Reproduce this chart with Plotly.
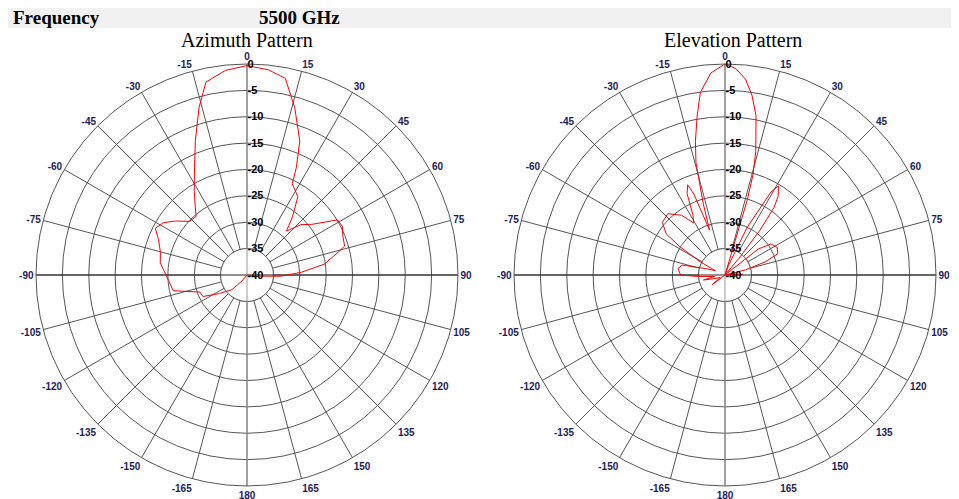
import plotly.graph_objects as go

# ---- data (dB vs angle, clockwise from top) ----
az_theta = [-180, -160, -145, -140, -134, -124, -116, -110, -102, -94, -82, -75, -68, -63, -58, -53, -47, -41,
            -37, -32, -26, -21, -16, -12, -6, 0, 6, 11, 16, 21.5, 24.6, 26.4, 33, 38, 42, 47, 52, 58.7, 63, 68,
            73.5, 76, 82, 87, 92, 96, 100, 120, 150, 180]
az_db = [-40, -40, -40, -38.5, -36, -33.7, -30.7, -30.5, -25.7, -25.1, -23.4, -23, -21.9, -20.5, -21.3, -23,
         -25.1, -25.3, -23.7, -21.1, -17.3, -12.7, -7, -2.6, -1, -0.3, -0.9, -2, -7.1, -12.7, -17.5, -20.7,
         -22.3, -26, -28.8, -26, -24.4, -19.9, -19.7, -20.4, -20.7, -22.2, -25.2, -29.6, -33.5, -38, -40, -40,
         -40, -40]

el_theta = [-180, -140, -127, -118, -110, -103, -98, -93, -90, -86, -82, -77, -72, -66, -62, -58, -55, -50,
            -43, -36, -31, -28, -25, -22.5, -21, -19, -17, -14.5, -12.5, -10, -7.7, -4, 0, 3, 6, 8.5, 11, 14,
            15.6, 16.5, 17.5, 20, 25, 29, 31, 34, 36, 38, 40, 43, 46, 52, 56, 62, 68, 72, 76, 80, 85, 88, 91,
            95, 120, 180]
el_db = [-40, -40, -37, -39, -38, -35.8, -38, -34.7, -31.6, -31.3, -31, -31.7, -36, -38, -34.7, -30, -26.4,
         -24.5, -24.1, -26, -28.5, -27, -23, -21.5, -23.6, -31, -26, -18, -14.1, -9.5, -5.1, -1.6, 0, -0.8,
         -2.7, -5.5, -9.2, -15.9, -20.3, -25, -40, -38, -30, -22, -20.3, -22, -24.2, -29.3, -36, -40, -40, -32,
         -29.5, -28.8, -29.2, -32, -36, -40, -38, -36.6, -38, -40, -40, -40]

ang_vals = list(range(0, 360, 15))
ang_labels = ["0", "15", "30", "45", "60", "75", "90", "105", "120", "135", "150", "165", "180",
              "-165", "-150", "-135", "-120", "-105", "-90", "-75", "-60", "-45", "-30", "-15"]
rad_vals = [-40, -35, -30, -25, -20, -15, -10, -5, 0]
rad_labels = ["-40", "-35", "-30", "-25", "-20", "-15", "-10", "-5", "0"]

titles = ["Azimuth Pattern", "Elevation Pattern"]
header_label = "Frequency"
header_value = "5500 GHz"

OFF = 8  # page body margin
W, H = 959 - OFF, 499 - OFF
GRID = "#555555"


def px(x):
    return (x - OFF) / W


def py(y):
    return 1 - (y - OFF) / H


fig = go.Figure()
circle_theta = list(range(0, 361, 2))
for sp in ["polar", "polar2"]:
    # inner blank disc (grid spokes stop at the -35 ring)
    fig.add_trace(go.Scatterpolar(r=[rad_vals[1]] * len(circle_theta), theta=circle_theta, mode="lines",
                                  fill="toself", fillcolor="white", line=dict(color=GRID, width=1),
                                  subplot=sp, showlegend=False, hoverinfo="skip"))
    # horizontal axis line through the centre
    fig.add_trace(go.Scatterpolar(r=[rad_vals[-1], rad_vals[0], rad_vals[-1]], theta=[-90, 0, 90],
                                  mode="lines", line=dict(color="#222222", width=1),
                                  subplot=sp, showlegend=False, hoverinfo="skip"))
    # vertical axis line through the centre
    fig.add_trace(go.Scatterpolar(r=[rad_vals[-1], rad_vals[0], rad_vals[-1]], theta=[0, 90, 180],
                                  mode="lines", line=dict(color="#999999", width=1),
                                  subplot=sp, showlegend=False, hoverinfo="skip"))

fig.add_trace(go.Scatterpolar(r=az_db, theta=az_theta, mode="lines",
                              line=dict(color="#ff0000", width=1), subplot="polar", showlegend=False))
fig.add_trace(go.Scatterpolar(r=el_db, theta=el_theta, mode="lines",
                              line=dict(color="#ff0000", width=1), subplot="polar2", showlegend=False))


def polar_cfg(x0, x1, y0, y1):
    return dict(
        domain=dict(x=[px(x0), px(x1)], y=[py(y1), py(y0)]),
        bgcolor="white",
        angularaxis=dict(rotation=90, direction="clockwise", tickmode="array",
                         tickvals=ang_vals, ticktext=ang_labels,
                         showline=True, linecolor=GRID, linewidth=1,
                         gridcolor=GRID, gridwidth=1, ticks="",
                         tickfont=dict(family="Liberation Sans", size=10, color="#1c1c5c", weight="bold")),
        radialaxis=dict(range=[-40, 0], tickmode="array", tickvals=rad_vals, ticktext=rad_labels,
                        angle=90, tickangle=90, showline=False,
                        gridcolor=GRID, gridwidth=1, ticks="",
                        tickfont=dict(family="Liberation Sans", size=11, color="black", weight="bold")),
    )


fig.update_layout(
    width=W, height=H, margin=dict(l=0, r=0, t=0, b=0),
    paper_bgcolor="white", plot_bgcolor="white",
    polar=polar_cfg(36, 458, 64, 486),
    polar2=polar_cfg(514, 936, 64, 486),
    shapes=[dict(type="rect", xref="paper", yref="paper", x0=px(5), x1=px(955),
                 y0=py(28), y1=py(4), fillcolor="#f1f1f1", line=dict(width=0), layer="below")],
    annotations=[
        dict(text=header_label, x=px(11), y=py(18), xref="paper", yref="paper", xanchor="left",
             yanchor="middle", showarrow=False,
             font=dict(family="Liberation Serif", size=19, color="black", weight="bold")),
        dict(text=header_value, x=px(257), y=py(18), xref="paper", yref="paper", xanchor="left",
             yanchor="middle", showarrow=False,
             font=dict(family="Liberation Serif", size=19, color="black", weight="bold")),
        dict(text=titles[0], x=px(247), y=py(40), xref="paper", yref="paper", xanchor="center",
             yanchor="middle", showarrow=False,
             font=dict(family="Liberation Serif", size=20, color="black")),
        dict(text=titles[1], x=px(733), y=py(40), xref="paper", yref="paper", xanchor="center",
             yanchor="middle", showarrow=False,
             font=dict(family="Liberation Serif", size=20, color="black")),
    ],
)

fig.write_html("out.html")
